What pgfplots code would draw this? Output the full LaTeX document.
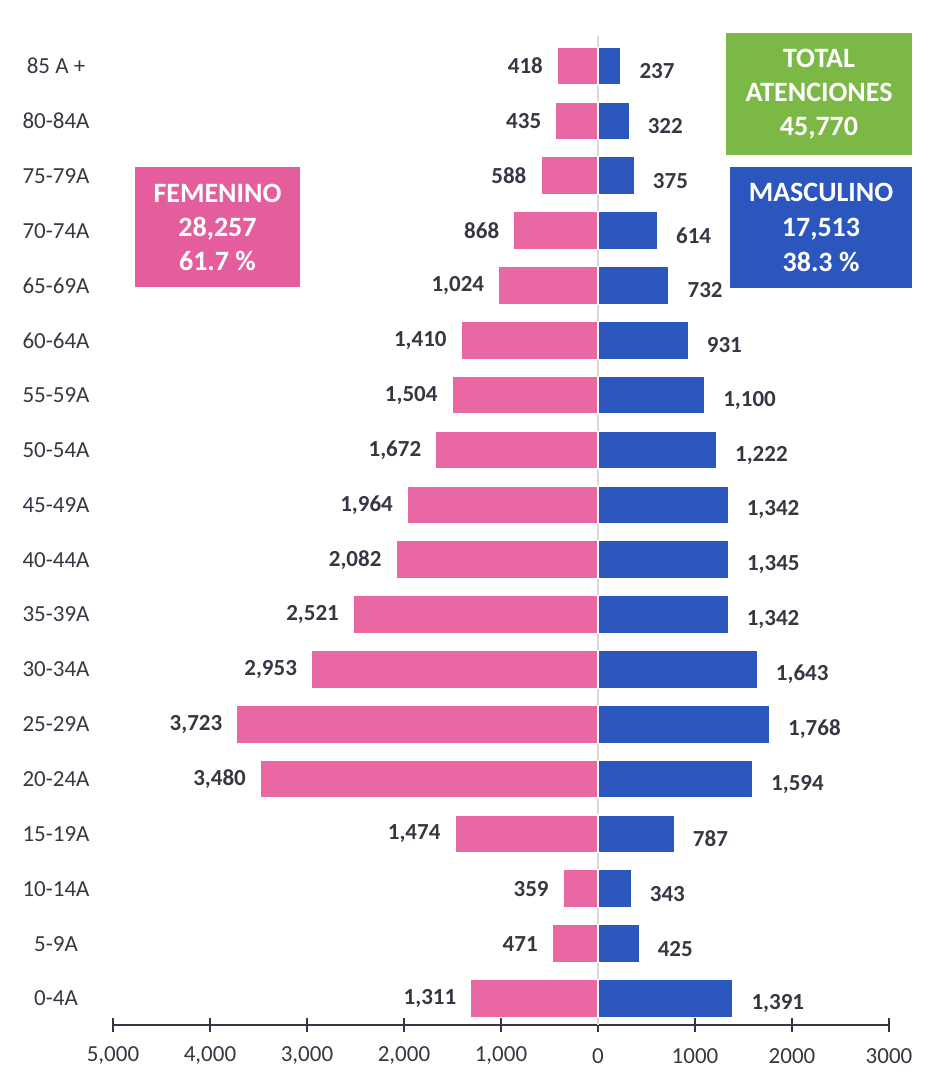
\documentclass[border=0pt]{standalone}
\usepackage{fontspec}
\setmainfont{Carlito}
\usepackage{pgfplots}
\pgfplotsset{compat=1.18}
\usepackage{pgfplotstable}
\definecolor{fem}{RGB}{233,104,164}
\definecolor{fembox}{RGB}{228,94,158}
\definecolor{mas}{RGB}{43,86,190}
\definecolor{tot}{RGB}{124,184,70}
\definecolor{txt}{RGB}{55,55,68}
\pgfplotstableread{
y f m
0 1311 1391
1 471 425
2 359 343
3 1474 787
4 3480 1594
5 3723 1768
6 2953 1643
7 2521 1342
8 2082 1345
9 1964 1342
10 1672 1222
11 1504 1100
12 1410 931
13 1024 732
14 868 614
15 588 375
16 435 322
17 418 237
}\datatable
\begin{document}
\begin{tikzpicture}
\useasboundingbox (0,0) rectangle (464.5pt,539.5pt);
\begin{axis}[
  at={(56.5pt,27pt)}, anchor=south west,
  scale only axis, width=388pt, height=495.9pt,
  xmin=-5000, xmax=3000, ymin=-0.483, ymax=17.6,
  clip=false,
  axis lines*=left,
  y axis line style={draw=none},
  x axis line style={draw=txt, line width=0.9pt},
  xtick={-5000,-4000,...,3000},
  xticklabels={{5,000},{4,000},{3,000},{2,000},{1,000},0,1000,2000,3000},
  xtick style={draw=txt, line width=0.9pt},
  major tick length=7pt, tick align=center,
  ytick={0,...,17},
  yticklabels={0-4A,5-9A,10-14A,15-19A,20-24A,25-29A,30-34A,35-39A,40-44A,45-49A,50-54A,55-59A,60-64A,65-69A,70-74A,75-79A,80-84A,85 A +},
  ytick style={draw=none},
  ticklabel style={font=\fontsize{11.5}{13}\selectfont, text=txt},
  yticklabel style={anchor=center, xshift=-25pt},
  xticklabel style={anchor=center, yshift=-12pt},
  point meta=explicit,
  nodes near coords={\pgfmathprintnumber[fixed,precision=0,1000 sep={,},assume math mode=true]{\pgfplotspointmeta}},
]
\draw[gray!30, line width=0.6pt] (axis cs:0,-0.483) -- (axis cs:0,17.55);
\addplot[xbar, bar shift=0pt, bar width=0.69, fill=fem, draw=white, line width=0.6pt,
  every node near coord/.append style={anchor=east, xshift=-6pt, inner sep=1pt, font=\bfseries\fontsize{11.5}{13}\selectfont, text=txt}]
  table[x expr=-\thisrow{f}, y=y, meta=f]{\datatable};
\addplot[xbar, bar shift=0pt, bar width=0.69, fill=mas, draw=white, line width=0.6pt,
  every node near coord/.append style={anchor=west, xshift=8pt, yshift=-2.5pt, inner sep=1pt, font=\bfseries\fontsize{11.5}{13}\selectfont, text=txt}]
  table[x=m, y=y, meta=m]{\datatable};
\end{axis}
\node[fill=fembox, text=white, font=\bfseries\fontsize{14}{17}\selectfont, align=center, minimum width=82.5pt, minimum height=60pt, inner sep=0pt] at (108.75pt,426pt) {FEMENINO\\28,257\\61.7 \%};
\node[fill=mas, text=white, font=\bfseries\fontsize{14}{17.5}\selectfont, align=center, minimum width=91pt, minimum height=60.5pt, inner sep=0pt] at (410.5pt,425.75pt) {MASCULINO\\17,513\\38.3 \%};
\node[fill=tot, text=white, font=\bfseries\fontsize{14}{17}\selectfont, align=center, minimum width=93pt, minimum height=61pt, inner sep=0pt] at (409.5pt,492.5pt) {TOTAL\\ATENCIONES\\45,770};
\end{tikzpicture}
\end{document}
